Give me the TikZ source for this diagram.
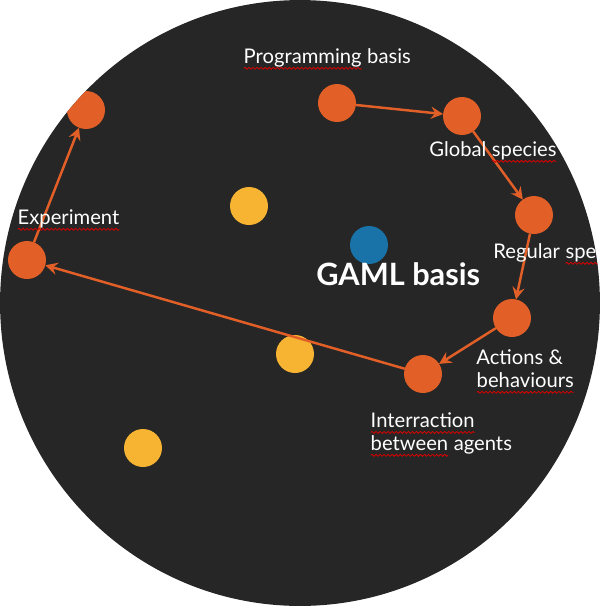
\documentclass[tikz,border=0pt]{standalone}
\usepackage{fontspec}
\setmainfont{Lato}
\usetikzlibrary{arrows.meta, decorations.pathmorphing}

\definecolor{board}{RGB}{38,38,38}
\definecolor{topicorange}{RGB}{226,96,40}
\definecolor{extrayellow}{RGB}{247,180,50}
\definecolor{gamlblue}{RGB}{25,115,168}

% word with a spell-check squiggle under it
\newcommand\typo[1]{\tikz[baseline=(w.base)]{\node[inner sep=0pt, outer sep=0pt] (w) {#1};
  \draw[red!85!black, line width=0.45pt, decorate, decoration={snake, amplitude=0.55pt, segment length=2.3pt}]
    ([yshift=-3pt]w.base west) -- ([yshift=-3pt]w.base east);}}

\begin{document}
\begin{tikzpicture}[x=0.02cm, y=-0.02cm,
    topic/.style = {circle, fill=topicorange, minimum size=0.76cm, inner sep=0pt, outer sep=0pt},
    extra/.style = {circle, fill=extrayellow, minimum size=0.76cm, inner sep=0pt},
    link/.style = {draw=topicorange, line width=1.4pt, -{Stealth[length=7pt, width=7pt, inset=2.5pt]}},
    note/.style = {text=white, anchor=base west, align=left, inner sep=0pt,
      font=\fontsize{11.5}{13}\selectfont}]

  \useasboundingbox (0,0) rectangle (600,606);
  \fill[board] (300,303) ellipse [x radius=6cm, y radius=6.06cm];
  \begin{scope}
    \clip (300,303) ellipse [x radius=6cm, y radius=6.06cm];

    \node[extra] (y1) at (249,206) {};
    \node[extra] (y2) at (295,354) {};
    \node[extra] (y3) at (143,448) {};
    \node[circle, fill=gamlblue, minimum size=0.76cm, inner sep=0pt] (gaml) at (369,245) {};

    \node[topic] (prog) at (337,103) {};
    \node[topic] (glob) at (462,116) {};
    \node[topic] (reg)  at (534,215) {};
    \node[topic] (act)  at (512,318) {};
    \node[topic] (inter) at (423,374) {};
    \node[topic] (exp)  at (27,260) {};
    \node[topic] (next) at (86,110) {};

    \draw[link] (prog) -- (glob);
    \draw[link] (glob) -- (reg);
    \draw[link] (reg) -- (act);
    \draw[link] (act) -- (inter);
    \draw[link] (inter) -- (exp);
    \draw[link] (exp) -- (next);

    \node[note] (progtxt) at (243,63) {\typo{Programming} basis};
    \node[note] (globtxt) at (429,156) {Global \typo{species}};
    \node[note] (regtxt) at (493,258) {Regular \typo{species}};
    \node[note] (acttxt) at (476,387) {Actions \&\\\typo{behaviours}};
    \node[note] (intertxt) at (370,450) {\typo{Interraction}\\\typo{between} agents};
    \node[note] (exptxt) at (17,224) {\typo{Experiment}};
    \node[text=white, anchor=base west, inner sep=0pt, font=\bfseries\fontsize{17.5}{20}\selectfont]
      (gamltxt) at (316,285) {GAML basis};
  \end{scope}
\end{tikzpicture}
\end{document}
